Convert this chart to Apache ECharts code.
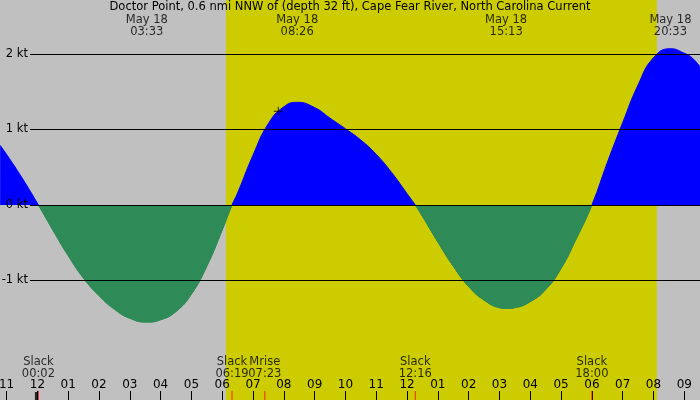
<!DOCTYPE html>
<html>
<head>
<meta charset="utf-8">
<script src="https://cdn.jsdelivr.net/npm/echarts@6/dist/echarts.min.js"></script>
<style>
html,body{margin:0;padding:0;background:#c0c0c0}
#chart{width:700px;height:400px}
</style>
</head>
<body>
<div id="chart"></div>
<script>
// hours after midnight May 18, current in knots (+ flood, - ebb)
var times = [-1.21, -1.0, -0.5, 0.033, 0.5, 1.0, 1.5, 2.0, 2.5, 3.0,
	3.55, 4.0, 4.5, 5.0, 5.5, 6.0, 6.317, 6.5, 7.0, 7.5, 8.0,
	8.433, 9.0, 9.5, 10.0, 10.5, 11.0, 11.5, 12.0, 12.267, 12.5, 13.0, 13.5, 14.0, 14.5, 15.0,
	15.217, 15.5, 16.0, 16.5, 17.0, 17.5, 18.0, 18.5, 19.0, 19.5, 20.0, 20.55, 21.0, 21.25, 21.51];
var speeds = [0.79, 0.67, 0.36, 0, -0.33, -0.67, -0.97, -1.20, -1.38, -1.50,
	-1.55, -1.52, -1.41, -1.18, -0.81, -0.33, 0, 0.16, 0.66, 1.08, 1.30,
	1.36, 1.29, 1.15, 1.01, 0.86, 0.67, 0.43, 0.15, 0, -0.15, -0.49, -0.81, -1.08, -1.26, -1.36,
	-1.37, -1.36, -1.28, -1.12, -0.84, -0.44, 0, 0.56, 1.09, 1.59, 1.95, 2.07, 2.01, 1.95, 1.83];

var hourTicks = [-1,0,1,2,3,4,5,6,7,8,9,10,11,12,13,14,15,16,17,18,19,20,21];
var levels = [2, 1, -1];

// slack / moonrise events along the bottom
var eventTimes = [0.033, 6.317, 7.383, 12.267, 18.0];
var eventNames = ['Slack', 'Slack', 'Mrise', 'Slack', 'Slack'];
var eventClock = ['00:02', '06:19', '07:23', '12:16', '18:00'];

// max flood / ebb along the top
var peakTimes = [3.55, 8.433, 15.217, 20.55];
var peakClock = ['03:33', '08:26', '15:13', '20:33'];
var dayLabel = 'May 18';

var sunrise = 6.12, sunset = 20.11;
var dayStarts = [0];
var nowTime = 7.82, nowSpeed = 1.24;

var xMin = -1.214, xMax = 21.51;
var yMin = -2.583, yMax = 2.715;
var lineStart = -0.24;
var font = 'DejaVu Sans';
var fs = 11.5;
var H = 400;

var myChart = echarts.init(document.getElementById('chart'));

var flowData = times.map(function(t, i){ return [t, speeds[i]]; });

// split colour exactly at 0 kt (fraction of the plot height)
var zf = yMax / (yMax - yMin);
var flowColor = new echarts.graphic.LinearGradient(0, 0, 0, H, [
	{offset: 0, color: '#0000ff'}, {offset: zf, color: '#0000ff'},
	{offset: zf, color: '#2e8b57'}, {offset: 1, color: '#2e8b57'}
], true);
// ebb only, laid over the 0 kt line
var ebbColor = new echarts.graphic.LinearGradient(0, 0, 0, H, [
	{offset: 0, color: 'rgba(46,139,87,0)'}, {offset: zf, color: 'rgba(46,139,87,0)'},
	{offset: zf, color: '#2e8b57'}, {offset: 1, color: '#2e8b57'}
], true);

var gridLines = levels.map(function(l){
	return [{coord:[lineStart, l], label:{formatter: l + ' kt'}}, {coord:[xMax, l]}];
});

var option = {
	animation: false,
	backgroundColor: '#c0c0c0',
	title: {
		text: 'Doctor Point, 0.6 nmi NNW of (depth 32 ft), Cape Fear River, North Carolina Current',
		left: 'center', top: 0, padding: [1, 0, 0, 0],
		textStyle: {fontFamily: font, fontSize: fs, fontWeight: 'normal', color: '#000'}
	},
	grid: {left: 0, right: 0, top: 0, bottom: 0, containLabel: false, outerBoundsMode: 'none'},
	xAxis: {
		type: 'value', min: xMin, max: xMax, z: 10,
		splitLine: {show: false},
		axisLine: {show: false, onZero: false},
		axisTick: {customValues: hourTicks, inside: true, length: 9, lineStyle: {color: '#000'}},
		axisLabel: {
			customValues: hourTicks, inside: true, margin: 9,
			fontFamily: font, fontSize: 12, color: '#000',
			formatter: function(v){
				var h = ((v % 12) + 12) % 12;
				if(h == 0) h = 12;
				return (h < 10 ? '0' : '') + h;
			}
		}
	},
	yAxis: {type: 'value', min: yMin, max: yMax, show: false},
	series: [
		{
			type: 'line', data: [], z: 1, silent: true,
			markArea: {
				silent: true,
				itemStyle: {color: '#cccc00', opacity: 1},
				data: [[{xAxis: sunrise}, {xAxis: sunset}]]
			},
			markLine: {
				silent: true, symbol: ['none', 'none'],
				lineStyle: {color: '#000', width: 1, type: 'solid'},
				label: {show: true, position: 'start', distance: 2, fontFamily: font, fontSize: fs, color: '#000'},
				data: gridLines
			}
		},
		{
			type: 'line', data: flowData, z: 2,
			smooth: 0.5, symbol: 'none',
			lineStyle: {width: 1, color: flowColor},
			itemStyle: {color: flowColor},
			areaStyle: {opacity: 1, origin: 0, color: flowColor}
		},
		{
			type: 'line', data: [], z: 3, silent: true,
			markLine: {
				silent: true, symbol: ['none', 'none'],
				lineStyle: {color: '#000', width: 1, type: 'solid'},
				label: {show: true, position: 'start', distance: 2, fontFamily: font, fontSize: fs, color: '#000'},
				data: [[{coord:[lineStart, 0], label:{formatter: '0 kt'}}, {coord:[xMax, 0]}]]
			}
		},
		{
			type: 'line', data: flowData, z: 4, silent: true,
			smooth: 0.5, symbol: 'none',
			lineStyle: {width: 1, color: ebbColor},
			itemStyle: {color: ebbColor},
			areaStyle: {opacity: 1, origin: 0, color: ebbColor}
		},
		{
			type: 'scatter', z: 11, silent: true,
			symbol: 'rect', symbolSize: [1, 9], symbolOffset: [0, -4.5],
			itemStyle: {color: '#ff0000'},
			data: eventTimes.map(function(t){ return [t, yMin]; })
		},
		{
			type: 'scatter', z: 11, silent: true,
			symbol: 'rect', symbolSize: [3, 8], symbolOffset: [-1, -4],
			itemStyle: {color: '#000'},
			data: dayStarts.map(function(t){ return [t, yMin]; })
		},
		{
			type: 'scatter', z: 5, silent: true,
			symbolSize: 1, itemStyle: {color: 'rgba(0,0,0,0)'},
			label: {
				show: true, position: 'inside', offset: [0, -32],
				fontFamily: font, fontSize: fs, lineHeight: 12, color: '#000', align: 'center',
				formatter: function(p){ return eventNames[p.dataIndex] + '\n' + eventClock[p.dataIndex]; }
			},
			data: eventTimes.map(function(t){ return [t, yMin]; })
		},
		{
			type: 'scatter', z: 5, silent: true,
			symbolSize: 1, itemStyle: {color: 'rgba(0,0,0,0)'},
			label: {
				show: true, position: 'inside', offset: [0, 26],
				fontFamily: font, fontSize: fs, lineHeight: 12, color: '#000', align: 'center',
				formatter: function(p){ return dayLabel + '\n' + peakClock[p.dataIndex]; }
			},
			data: peakTimes.map(function(t){ return [t, yMax]; })
		},
		{
			type: 'scatter', z: 6, silent: true,
			symbol: 'path://M4,0h1v9h-1zM0,4h9v1h-9z', symbolSize: 9,
			itemStyle: {color: '#000'},
			data: [[nowTime, nowSpeed]]
		}
	]
};
myChart.setOption(option);
</script>
</body>
</html>
